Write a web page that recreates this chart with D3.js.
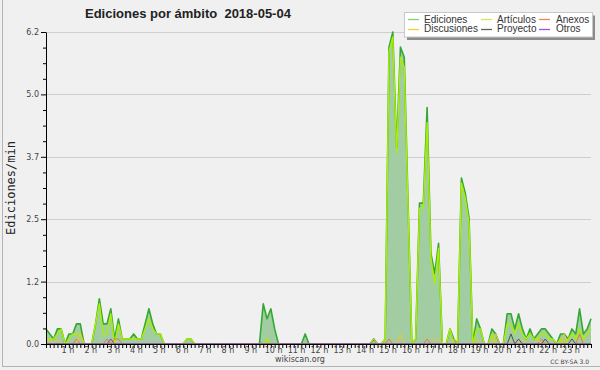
<!DOCTYPE html>
<html><head><meta charset="utf-8">
<script src="https://cdn.jsdelivr.net/npm/d3@7/dist/d3.min.js"></script>
<style>body{margin:0;background:#f0f0f0}svg{display:block}</style>
</head><body><svg id="c" width="600" height="370"></svg>
<script>
// time of each 10-minute bin, in minutes since 00:00
const minutes = d3.range(144).map(i => i * 10);

const ediciones = [
 0.3,0.2,0.1,0.3,0.3,0,   0.2,0.2,0.4,0.4,0,0,   0,0.4,0.9,0.4,0.4,0.7,   0.1,0.5,0.1,0.1,0.1,0.2,
 0.1,0.1,0.4,0.7,0.4,0.2, 0.2,0,0,0,0,0,         0,0.1,0.1,0,0,0,       0,0,0,0,0,0,
 0,0,0,0,0,0,             0,0,0,0.8,0.5,0.7,     0.3,0,0,0,0,0,         0,0,0.2,0,0,0,
 0,0,0,0,0,0,             0,0,0,0,0,0,           0,0,0.1,0,0,0.1,       5.9,6.2,3.9,5.9,5.7,2.8,
 0,0.1,2.8,2.8,4.7,1.8,   1.4,2.0,0,0,0.3,0.1,   0,3.3,3.0,2.5,0,0.5,   0.3,0,0,0.3,0.2,0,
 0,0.6,0.6,0.3,0.6,0.3,   0.1,0.3,0.1,0.2,0.3,0.3, 0.2,0.1,0,0.2,0.2,0.1, 0.3,0.2,0.7,0.2,0.3,0.5
];
const articulos = [
 0.1,0.1,0.1,0.2,0.3,0,   0.1,0.2,0.2,0.2,0,0,   0,0.4,0.8,0.2,0.2,0.6,   0,0.4,0.1,0.1,0.1,0.1,
 0.1,0.1,0.3,0.5,0.3,0.2, 0.2,0,0,0,0,0,         0,0.1,0.1,0,0,0,       0,0,0,0,0,0,
 0,0,0,0,0,0,             0,0,0,0,0.1,0,         0,0,0,0,0,0,           0,0,0,0,0,0,
 0,0,0,0,0,0,             0,0,0,0,0,0,           0,0,0,0,0,0.1,         5.8,6.1,3.8,5.7,5.5,2.7,
 0,0.1,2.7,2.7,4.4,1.7,   1.2,1.9,0,0,0.3,0,     0,3.2,2.9,2.4,0,0.3,   0.3,0,0,0.2,0,0,
 0,0.4,0.4,0.2,0.4,0.2,   0.1,0.2,0.1,0.1,0.2,0.2, 0.1,0.1,0,0.1,0,0.1, 0.2,0.1,0.3,0.1,0.2,0.3
];
const anexos = [
 0,0,0,0,0,0, 0,0,0.1,0,0,0, 0,0,0,0,0.1,0, 0.1,0.1,0,0,0,0,
 0,0,0,0,0,0, 0,0,0,0,0,0, 0,0,0,0,0,0, 0,0,0,0,0,0,
 0,0,0,0,0,0, 0,0,0,0,0,0, 0,0,0,0,0,0, 0,0,0,0,0,0,
 0,0,0,0,0,0, 0,0,0,0,0,0, 0,0,0,0,0,0, 0.1,0,0,0,0,0,
 0,0,0,0,0.1,0, 0,0,0,0,0,0, 0,0,0,0,0,0, 0,0,0,0,0,0,
 0,0,0,0,0,0, 0,0,0,0,0.1,0, 0,0,0,0,0,0, 0,0,0.2,0,0,0
];
const discusiones = [
 0,0.1,0,0.1,0,0, 0,0,0,0.2,0,0, 0,0,0,0,0,0, 0,0,0,0,0,0,
 0,0,0,0,0,0, 0,0,0,0,0,0, 0,0,0,0,0,0, 0,0,0,0,0,0,
 0,0,0,0,0,0, 0,0,0,0,0,0, 0,0,0,0,0,0, 0,0,0,0,0,0,
 0,0,0,0,0,0, 0,0,0,0,0,0, 0,0,0.1,0,0,0, 0,0,0,0.2,0,0,
 0,0,0,0,0,0, 0.1,0.1,0,0,0,0.1, 0,0,0,0,0,0.1, 0,0,0,0,0.2,0,
 0,0,0,0,0,0.1, 0,0,0,0.1,0,0, 0,0,0,0,0.2,0, 0,0,0,0,0,0
];
const proyecto = [
 0,0,0,0,0,0, 0,0,0,0,0,0, 0,0,0,0,0,0, 0,0,0,0,0,0,
 0,0,0,0,0,0, 0,0,0,0,0,0, 0,0,0,0,0,0, 0,0,0,0,0,0,
 0,0,0,0,0,0, 0,0,0,0,0,0, 0,0,0,0,0,0, 0,0,0,0,0,0,
 0,0,0,0,0,0, 0,0,0,0,0,0, 0,0,0,0,0,0, 0,0,0,0,0,0,
 0,0,0,0,0,0, 0,0,0,0,0,0, 0,0,0,0,0,0, 0,0,0,0,0,0,
 0,0,0.2,0,0.1,0, 0,0,0,0,0,0.1, 0,0,0,0,0,0, 0.1,0,0,0,0,0
];
const otros = [
 0,0,0,0,0,0, 0,0,0,0,0,0, 0,0,0,0,0,0.1, 0,0,0,0,0,0,
 0,0,0,0,0,0, 0,0,0,0,0,0, 0,0,0,0,0,0, 0,0,0,0,0,0,
 0,0,0,0,0,0, 0,0,0,0,0,0, 0,0,0,0,0,0, 0,0,0,0,0,0,
 0,0,0,0,0,0, 0,0,0,0,0,0, 0,0,0,0,0,0, 0,0,0,0,0,0,
 0,0,0,0,0,0, 0,0,0,0,0,0, 0,0,0,0,0,0, 0,0,0,0,0,0,
 0,0,0,0,0,0, 0,0,0,0,0,0, 0,0,0,0,0,0, 0,0,0,0,0,0
];

const yTicks = [0, 1.24, 2.48, 3.72, 4.96, 6.2];
const hourTicks = d3.range(1, 24).map(h => h * 60);
const hourLabels = ["1 h","2 h","3 h","4 h","5 h","6 h","7 h","8 h","9 h","10 h","11 h","12 h",
  "13 h","14 h","15 h","16 h","17 h","18 h","19 h","20 h","21 h","22 h","23 h"];

const legendNames = ["Ediciones","Artículos","Anexos","Discusiones","Proyecto","Otros"];

const W = 600, H = 370;
const svg = d3.select("#c");
svg.append("rect").attr("width", W).attr("height", H).attr("fill", "#f0f0f0");
svg.append("line").attr("x1", 2.5).attr("x2", 2.5).attr("y1", 0).attr("y2", 367).attr("stroke", "#b4b4b4");
svg.append("line").attr("x1", 2).attr("x2", W).attr("y1", 366.5).attr("y2", 366.5).attr("stroke", "#b4b4b4");

const x = d3.scaleLinear().domain([0, 1430]).range([46, 591]);
const y = d3.scaleLinear().domain([0, 6.2]).range([344, 32]);

// grid
svg.append("g").selectAll("line").data(yTicks.slice(1)).join("line")
  .attr("x1", 46).attr("x2", 591)
  .attr("y1", d => Math.round(y(d)) + 0.5).attr("y2", d => Math.round(y(d)) + 0.5)
  .attr("stroke", "#cfcfcf");

// series
const series = [
  {name: "Ediciones", values: ediciones, color: "#34a834", w: 1.6},
  {name: "Artículos", values: articulos, color: "#aaee00", w: 1.4},
  {name: "Anexos", values: anexos, color: "#f07830", w: 1},
  {name: "Discusiones", values: discusiones, color: "#f0c828", w: 1},
  {name: "Proyecto", values: proyecto, color: "#505050", w: 1},
  {name: "Otros", values: otros, color: "#8a3cf0", w: 1}
];

const area = d3.area().x((d, i) => x(minutes[i])).y0(y(0)).y1(d => y(d));
const line = d3.line().x((d, i) => x(minutes[i])).y(d => y(d));

svg.append("path").datum(ediciones).attr("d", area).attr("fill", "#a2cda2");

series.forEach(s => {
  svg.append("path").datum(s.values).attr("d", line)
    .attr("fill", "none").attr("stroke", s.color).attr("stroke-width", s.w)
    .attr("stroke-linejoin", "round");
});

// axes
const fontSmall = "DejaVu Sans";
const yAxis = svg.append("g").attr("transform", "translate(46,0)")
  .call(d3.axisLeft(y).tickValues(yTicks).tickFormat(d3.format(".1f")).tickSize(5).tickSizeOuter(0).tickPadding(2));
const yMinor = d3.range(0, 20).map(i => i * 0.31).filter((d, i) => i % 4 !== 0);
svg.append("g").attr("transform", "translate(46,0)")
  .call(d3.axisLeft(y).tickValues(yMinor).tickFormat("").tickSize(3).tickSizeOuter(0))
  .call(g => g.select(".domain").remove());
yAxis.selectAll("text").attr("font-family", fontSmall).attr("font-size", 8).attr("fill", "#444");

const xAxis = svg.append("g").attr("transform", "translate(0,344)")
  .call(d3.axisBottom(x).tickValues(minutes).tickFormat("").tickSize(4).tickSizeOuter(0));
xAxis.select(".domain").attr("d", "M46,0.5H591");
const xLab = svg.append("g").attr("transform", "translate(0,344)")
  .call(d3.axisBottom(x).tickValues(hourTicks).tickFormat((d, i) => hourLabels[i]).tickSize(0).tickPadding(3))
  .call(g => g.select(".domain").remove());
xLab.selectAll("text").attr("font-family", fontSmall).attr("font-size", 8).attr("fill", "#444").attr("dx", -1.5);

svg.selectAll(".tick line").attr("stroke", "#000");

// title
svg.append("text").attr("x", 85).attr("y", 18).style("white-space", "pre")
  .attr("font-family", "Liberation Sans").attr("font-weight", "bold").attr("font-size", 13)
  .attr("fill", "#222").text("Ediciones por ámbito  2018-05-04");

// y label
svg.append("text").attr("transform", "translate(15,188) rotate(-90)")
  .attr("text-anchor", "middle").attr("font-family", "DejaVu Sans Mono").attr("font-size", 12)
  .attr("fill", "#222").text("Ediciones/min");

// footer
svg.append("text").attr("x", 300).attr("y", 362).attr("text-anchor", "middle")
  .attr("font-family", fontSmall).attr("font-size", 8).attr("fill", "#444").text("wikiscan.org");
svg.append("text").attr("x", 589).attr("y", 364).attr("text-anchor", "end")
  .attr("font-family", fontSmall).attr("font-size", 6).attr("fill", "#444").text("CC BY-SA 3.0");

// legend
const lg = svg.append("g");
lg.append("rect").attr("x", 407).attr("y", 15.5).attr("width", 188).attr("height", 24.5).attr("fill", "#8c8c8c");
lg.append("rect").attr("x", 404.5).attr("y", 12.5).attr("width", 188).attr("height", 24.5)
  .attr("fill", "#ffffff").attr("stroke", "#c8c8c8");
const legendColors = ["#88cc88", "#c8ee55", "#f08850", "#f5cc40", "#606060", "#9955ee"];
const colLineX = [408, 481, 539], colTextX = [424, 497, 556];
const rowLineY = [19.5, 29.5], rowTextY = [22.8, 32.3];
legendNames.forEach((n, i) => {
  const c = i % 3, r = Math.floor(i / 3);
  lg.append("line").attr("x1", colLineX[c]).attr("x2", colLineX[c] + 11)
    .attr("y1", rowLineY[r]).attr("y2", rowLineY[r]).attr("stroke", legendColors[i]).attr("stroke-width", 1.3);
  lg.append("text").attr("x", colTextX[c]).attr("y", rowTextY[r])
    .attr("font-family", "Liberation Sans").attr("font-size", 10).attr("fill", "#333").text(n);
});
</script></body></html>
